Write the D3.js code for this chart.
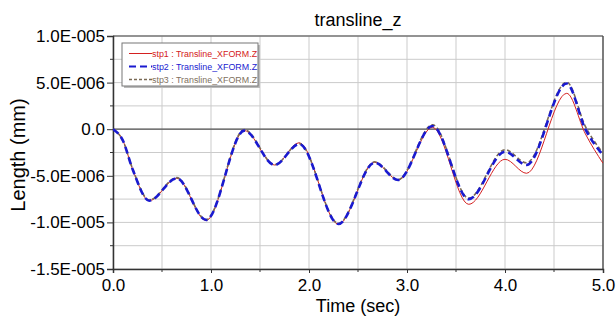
<!DOCTYPE html>
<html><head><meta charset="utf-8">
<script src="https://cdn.jsdelivr.net/npm/d3@7"></script>
<style>body{margin:0;background:#fff;} svg{display:block;font-family:"Liberation Sans",Arial,sans-serif;}</style>
</head><body>
<svg id="chart" width="616" height="320"></svg>
<script>
// ---- data (values in units of 1E-006 mm) ----
const times = [0, 0.1, 0.2, 0.37, 0.65, 0.95, 1.34, 1.65, 1.90, 2.30, 2.67, 2.91, 3.26, 3.63, 4.00, 4.22, 4.63, 4.82, 5.0];
const stp1  = [0, -1.2, -4.3, -7.67, -5.27, -9.80, -0.15, -3.84, -1.45, -10.2, -3.55, -5.45, 0.20, -8.06, -3.23, -4.73, 3.85, -0.5, -3.66];
const stp2  = [0, -1.2, -4.3, -7.67, -5.27, -9.74, -0.15, -3.84, -1.59, -10.17, -3.59, -5.45, 0.34, -7.50, -2.41, -3.84, 4.90, 0.0, -2.77];
const stp3  = [0, -1.2, -4.25, -7.60, -5.20, -9.70, -0.05, -3.80, -1.55, -10.1, -3.50, -5.40, 0.48, -7.40, -2.20, -3.60, 5.05, 0.3, -2.55];
const seriesNames = ["stp1 : Transline_XFORM.Z", "stp2 : Transline_XFORM.Z", "stp3 : Transline_XFORM.Z"];
const xTicks = [0, 1, 2, 3, 4, 5];
const yTicks = [10, 5, 0, -5, -10, -15];
const yTickLabels = ["1.0E-005", "5.0E-006", "0.0", "-5.0E-006", "-1.0E-005", "-1.5E-005"];

const svg = d3.select("#chart");
const L = 113, R = 603, T = 36, B = 269;
const x = d3.scaleLinear().domain([0, 5]).range([L, R]);
const y = d3.scaleLinear().domain([-15, 10]).range([B, T]);

// grid
const gx = d3.range(0, 5.01, 0.5), gy = d3.range(-15, 10.01, 2.5);
svg.append("g").selectAll("line").data(gx).join("line")
  .attr("x1", d => x(d)).attr("x2", d => x(d)).attr("y1", T).attr("y2", B)
  .attr("stroke", "#cbcbcb").attr("stroke-width", 1);
svg.append("g").selectAll("line").data(gy).join("line")
  .attr("x1", L).attr("x2", R).attr("y1", d => y(d)).attr("y2", d => y(d))
  .attr("stroke", "#cbcbcb").attr("stroke-width", 1);
// zero line
svg.append("line").attr("x1", L).attr("x2", R).attr("y1", y(0)).attr("y2", y(0))
  .attr("stroke", "#555").attr("stroke-width", 1.3);
// frame top/right
svg.append("line").attr("x1", L).attr("x2", R).attr("y1", T).attr("y2", T).attr("stroke", "#777").attr("stroke-width", 1.3);
svg.append("line").attr("x1", R).attr("x2", R).attr("y1", T).attr("y2", B).attr("stroke", "#444").attr("stroke-width", 1.3);

// axes
const yAxis = d3.axisLeft(y).tickValues(yTicks).tickSize(6)
  .tickFormat((d, i) => yTickLabels[i]);
const ya = svg.append("g").attr("transform", `translate(${L},0)`).call(yAxis);
ya.select(".domain").attr("stroke", "#333").attr("stroke-width", 1.5);
ya.selectAll(".tick line").attr("stroke", "#333");
ya.selectAll("text").attr("font-size", 17).attr("fill", "#000").attr("x", -8)
  .attr("font-family", "Liberation Sans, Arial, sans-serif");
// minor y ticks
svg.append("g").selectAll("line").data(gy.filter(d => d % 5 !== 0)).join("line")
  .attr("x1", L - 3).attr("x2", L).attr("y1", d => y(d)).attr("y2", d => y(d)).attr("stroke", "#333");

const xAxis = d3.axisBottom(x).tickValues(xTicks).tickSize(4).tickFormat(d3.format(".1f"));
const xa = svg.append("g").attr("transform", `translate(0,${B})`).call(xAxis);
xa.select(".domain").attr("stroke", "#333").attr("stroke-width", 1.5);
xa.selectAll(".tick line").attr("stroke", "#333");
xa.selectAll("text").attr("font-size", 17).attr("fill", "#000").attr("y", 10)
  .attr("font-family", "Liberation Sans, Arial, sans-serif");
svg.append("g").selectAll("line").data(gx.filter(d => d % 1 !== 0)).join("line")
  .attr("x1", d => x(d)).attr("x2", d => x(d)).attr("y1", B).attr("y2", B + 3).attr("stroke", "#333");

// titles
svg.append("text").attr("x", 358).attr("y", 26).attr("text-anchor", "middle")
  .attr("font-size", 18).text("transline_z");
svg.append("text").attr("x", 358).attr("y", 312).attr("text-anchor", "middle")
  .attr("font-size", 18).text("Time (sec)");
svg.append("text").attr("transform", "translate(25,155) rotate(-90)").attr("text-anchor", "middle")
  .attr("font-size", 20).text("Length (mm)");

// lines
svg.append("clipPath").attr("id", "clip").append("rect")
  .attr("x", L).attr("y", T).attr("width", R - L).attr("height", B - T);
const styles = [
  {vals: stp1, color: "#d42020", w: 1, dash: null},
  {vals: stp3, color: "#7a6a55", w: 1.6, dash: "4,2.5"},
  {vals: stp2, color: "#1a1ad0", w: 2.6, dash: "7,4"}
];
const line = d3.line().x(d => x(d[0])).y(d => y(d[1])).curve(d3.curveMonotoneX);
const lg = svg.append("g").attr("clip-path", "url(#clip)");
styles.forEach(s => {
  lg.append("path").attr("d", line(times.map((t, i) => [t, s.vals[i]])))
    .attr("fill", "none").attr("stroke", s.color).attr("stroke-width", s.w)
    .attr("stroke-dasharray", s.dash);
});

// legend
const leg = svg.append("g");
leg.append("rect").attr("x", 124).attr("y", 45).attr("width", 136).attr("height", 43).attr("fill", "#bbb");
leg.append("rect").attr("x", 122).attr("y", 43).attr("width", 136).attr("height", 43)
  .attr("fill", "#fff").attr("stroke", "#777").attr("stroke-width", 1);
const legStyles = [
  {color: "#d42020", text: "#d42020", w: 1, dash: null},
  {color: "#1a1ad0", text: "#1a1ad0", w: 2, dash: "7,4"},
  {color: "#7a6a55", text: "#807060", w: 1.3, dash: "3,2"}
];
seriesNames.forEach((n, i) => {
  const yy = 53.5 + i * 13;
  leg.append("line").attr("x1", 129).attr("x2", 152).attr("y1", yy).attr("y2", yy)
    .attr("stroke", legStyles[i].color).attr("stroke-width", legStyles[i].w)
    .attr("stroke-dasharray", legStyles[i].dash);
  leg.append("text").attr("x", 152).attr("y", yy).attr("dy", "0.35em")
    .attr("font-size", 8.9).attr("fill", legStyles[i].text).text(n);
});
</script>
</body></html>
